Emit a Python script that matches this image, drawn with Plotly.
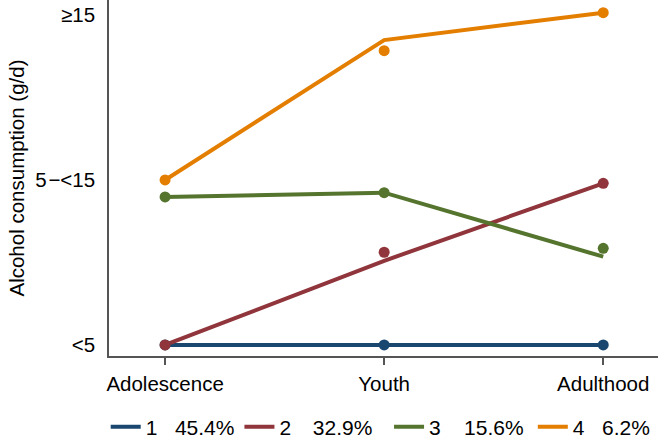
import plotly.graph_objects as go

stages = ["Adolescence", "Youth", "Adulthood"]
y_tick_vals = [1, 2, 3]
y_tick_text = ["<5", "5\u200a\u2212<15", "\u226515"]

group_names = ["1", "2", "3", "4"]
group_pcts = ["45.4%", "32.9%", "15.6%", "6.2%"]
colors = ["#1a476f", "#90353b", "#55752f", "#e37e00"]

# estimated trajectories (lines)
est_1 = [1.0, 1.0, 1.0]
est_2 = [1.0, 1.51, 1.98]
est_3 = [1.897, 1.923, 1.535]
est_4 = [2.0, 2.848, 3.014]
# observed means (dots)
obs_1 = [1.0, 1.0, 1.0]
obs_2 = [1.0, 1.562, 1.98]
obs_3 = [1.897, 1.923, 1.586]
obs_4 = [2.0, 2.784, 3.014]

est = [est_1, est_2, est_3, est_4]
obs = [obs_1, obs_2, obs_3, obs_4]

NB = "\u00a0"
TH = "\u2009"
gaps_mid = [NB * 3, NB * 3 + TH, NB * 4, NB * 3]
gaps_end = ["", NB * 2, TH, ""]

FONT = "Liberation Sans, Arial, Helvetica, sans-serif"

fig = go.Figure()
for i in range(4):
    label = group_names[i] + gaps_mid[i] + group_pcts[i] + gaps_end[i]
    fig.add_trace(go.Scatter(x=stages, y=est[i], mode="lines", name=label,
                             line=dict(color=colors[i], width=4),
                             hoverinfo="skip"))
for i in range(4):
    fig.add_trace(go.Scatter(x=stages, y=obs[i], mode="markers", showlegend=False,
                             marker=dict(color=colors[i], size=11, line=dict(width=0))))

fig.update_layout(
    width=663, height=440,
    margin=dict(l=109, r=5, t=0, b=84, autoexpand=False),
    paper_bgcolor="white", plot_bgcolor="white",
    font=dict(family=FONT, size=20.5, color="black"),
    legend=dict(orientation="h", x=-0.006, xanchor="left", y=-0.2, yanchor="middle",
                font=dict(size=21), itemclick=False, bgcolor="rgba(0,0,0,0)"),
)
fig.update_xaxes(type="category", range=[-0.256, 2.25], automargin=False,
                 showline=True, linecolor="#555555", linewidth=1.5,
                 ticks="outside", ticklen=7, tickcolor="#555555", tickwidth=1.5,
                 ticklabelstandoff=2,
                 showgrid=False, zeroline=False, tickfont=dict(size=20.5))
fig.update_yaxes(range=[0.933, 3.091], tickvals=y_tick_vals, ticktext=y_tick_text,
                 automargin=False,
                 showline=True, linecolor="#555555", linewidth=1.5,
                 ticks="", showgrid=False, zeroline=False, tickfont=dict(size=20.5),
                 ticklabelstandoff=8,
                 title=dict(text="Alcohol consumption (g/d)", font=dict(size=20.5), standoff=5))

fig.write_html("out.html", config={"displayModeBar": False},
               post_script="document.body.style.margin='0';")
